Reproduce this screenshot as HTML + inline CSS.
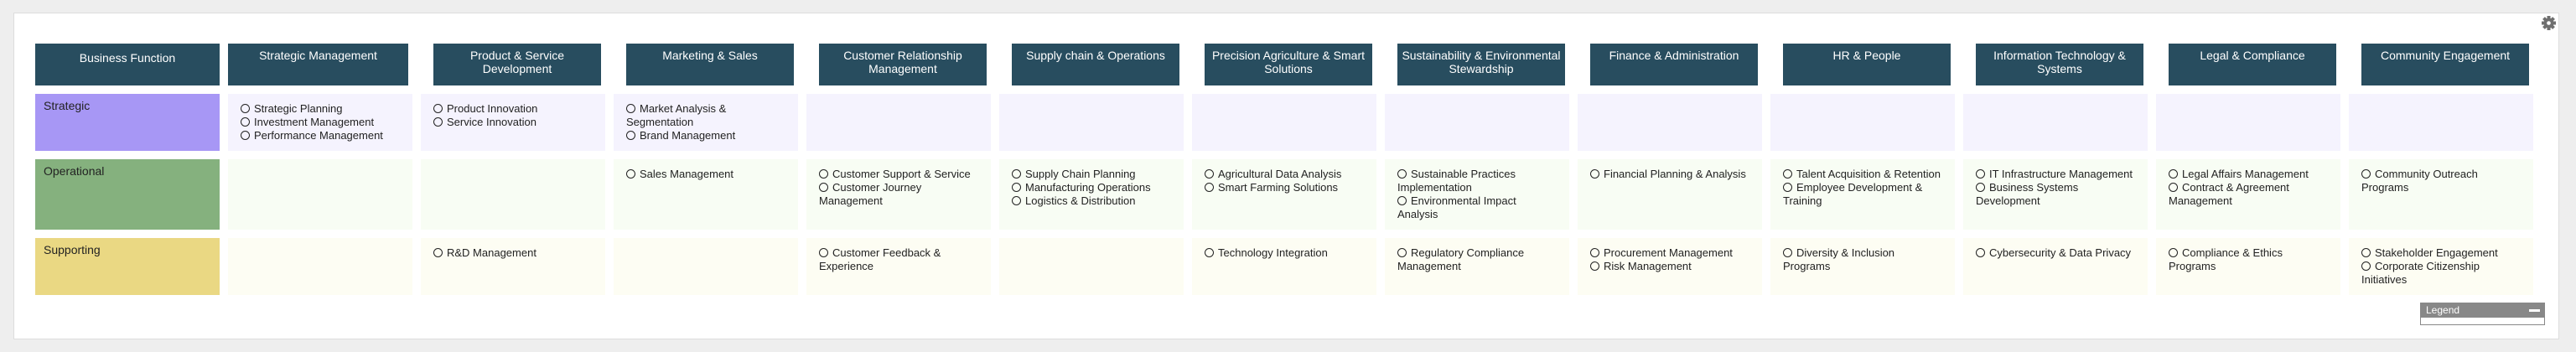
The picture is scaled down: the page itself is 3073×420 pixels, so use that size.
<!DOCTYPE html>
<html><head><meta charset="utf-8"><style>
*{margin:0;padding:0;box-sizing:border-box}
body{width:3073px;height:420px;background:#eeeeee;font-family:"Liberation Sans",sans-serif;position:relative;overflow:hidden}
.panel{position:absolute;left:16px;top:15px;width:3037px;height:390px;background:#fff;border:1px solid #dddddd}
.h{position:absolute;top:52px;height:50px;background:#284d5f;color:#fff;font-size:14px;line-height:16px;text-align:center;padding-top:6px;white-space:nowrap}
.c{position:absolute;width:220px;font-size:13px;line-height:16px;color:#222;padding:10px 0 0 15px;white-space:nowrap}
.r1{top:112px;height:68px;background:#f5f3fe}
.r2{top:190px;height:84px;background:#f8fdf4}
.r3{top:284px;height:68px;background:#fdfdf3}
.o{display:inline-block;width:11px;height:11px;border:1.3px solid #222;border-radius:50%;margin-right:5px;vertical-align:-1px}
.lab{position:absolute;left:42px;width:220px;font-size:14px;color:#222;padding:6px 0 0 10px}
.gear{position:absolute;left:3032px;top:19px}
.leg{position:absolute;left:2887px;top:361px;width:149px;height:27px;border:1px solid #888;background:#fff}
.leg div{height:17px;background:#888;color:#fff;font-size:12px;padding:1px 0 0 6px;position:relative}
.leg span{position:absolute;right:5px;top:7px;width:13px;height:3px;background:#fff}
</style></head><body>
<div class="panel"></div>
<svg class="gear" width="17" height="17" viewBox="0 0 17 17"><g fill="#6f6f6f" transform="translate(8.5 8.5)"><rect x="-2" y="-8.5" width="4" height="17"/><rect x="-2" y="-8.5" width="4" height="17" transform="rotate(45)"/><rect x="-2" y="-8.5" width="4" height="17" transform="rotate(90)"/><rect x="-2" y="-8.5" width="4" height="17" transform="rotate(135)"/><circle r="6"/><circle r="2.3" fill="#fff"/></g></svg>

<div class="h" style="left:42px;width:220px;padding-top:9px">Business Function</div>
<div class="lab" style="top:112px;height:68px;background:#a797f5">Strategic</div>
<div class="lab" style="top:190px;height:84px;background:#85b17e">Operational</div>
<div class="lab" style="top:284px;height:68px;background:#ead883">Supporting</div>

<div class="h" style="left:272px;width:215px">Strategic Management</div>
<div class="c r1" style="left:272px"><span class="o"></span>Strategic Planning<br><span class="o"></span>Investment Management<br><span class="o"></span>Performance Management</div>
<div class="c r2" style="left:272px"></div>
<div class="c r3" style="left:272px"></div>

<div class="h" style="left:517px;width:200px">Product &amp; Service<br>Development</div>
<div class="c r1" style="left:502px"><span class="o"></span>Product Innovation<br><span class="o"></span>Service Innovation</div>
<div class="c r2" style="left:502px"></div>
<div class="c r3" style="left:502px"><span class="o"></span>R&amp;D Management</div>

<div class="h" style="left:747px;width:200px">Marketing &amp; Sales</div>
<div class="c r1" style="left:732px"><span class="o"></span>Market Analysis &amp;<br>Segmentation<br><span class="o"></span>Brand Management</div>
<div class="c r2" style="left:732px"><span class="o"></span>Sales Management</div>
<div class="c r3" style="left:732px"></div>

<div class="h" style="left:977px;width:200px">Customer Relationship<br>Management</div>
<div class="c r1" style="left:962px"></div>
<div class="c r2" style="left:962px"><span class="o"></span>Customer Support &amp; Service<br><span class="o"></span>Customer Journey<br>Management</div>
<div class="c r3" style="left:962px"><span class="o"></span>Customer Feedback &amp;<br>Experience</div>

<div class="h" style="left:1207px;width:200px">Supply chain &amp; Operations</div>
<div class="c r1" style="left:1192px"></div>
<div class="c r2" style="left:1192px"><span class="o"></span>Supply Chain Planning<br><span class="o"></span>Manufacturing Operations<br><span class="o"></span>Logistics &amp; Distribution</div>
<div class="c r3" style="left:1192px"></div>

<div class="h" style="left:1437px;width:200px">Precision Agriculture &amp; Smart<br>Solutions</div>
<div class="c r1" style="left:1422px"></div>
<div class="c r2" style="left:1422px"><span class="o"></span>Agricultural Data Analysis<br><span class="o"></span>Smart Farming Solutions</div>
<div class="c r3" style="left:1422px"><span class="o"></span>Technology Integration</div>

<div class="h" style="left:1667px;width:200px">Sustainability &amp; Environmental<br>Stewardship</div>
<div class="c r1" style="left:1652px"></div>
<div class="c r2" style="left:1652px"><span class="o"></span>Sustainable Practices<br>Implementation<br><span class="o"></span>Environmental Impact<br>Analysis</div>
<div class="c r3" style="left:1652px"><span class="o"></span>Regulatory Compliance<br>Management</div>

<div class="h" style="left:1897px;width:200px">Finance &amp; Administration</div>
<div class="c r1" style="left:1882px"></div>
<div class="c r2" style="left:1882px"><span class="o"></span>Financial Planning &amp; Analysis</div>
<div class="c r3" style="left:1882px"><span class="o"></span>Procurement Management<br><span class="o"></span>Risk Management</div>

<div class="h" style="left:2127px;width:200px">HR &amp; People</div>
<div class="c r1" style="left:2112px"></div>
<div class="c r2" style="left:2112px"><span class="o"></span>Talent Acquisition &amp; Retention<br><span class="o"></span>Employee Development &amp;<br>Training</div>
<div class="c r3" style="left:2112px"><span class="o"></span>Diversity &amp; Inclusion<br>Programs</div>

<div class="h" style="left:2357px;width:200px">Information Technology &amp;<br>Systems</div>
<div class="c r1" style="left:2342px"></div>
<div class="c r2" style="left:2342px"><span class="o"></span>IT Infrastructure Management<br><span class="o"></span>Business Systems<br>Development</div>
<div class="c r3" style="left:2342px"><span class="o"></span>Cybersecurity &amp; Data Privacy</div>

<div class="h" style="left:2587px;width:200px">Legal &amp; Compliance</div>
<div class="c r1" style="left:2572px"></div>
<div class="c r2" style="left:2572px"><span class="o"></span>Legal Affairs Management<br><span class="o"></span>Contract &amp; Agreement<br>Management</div>
<div class="c r3" style="left:2572px"><span class="o"></span>Compliance &amp; Ethics<br>Programs</div>

<div class="h" style="left:2817px;width:200px">Community Engagement</div>
<div class="c r1" style="left:2802px"></div>
<div class="c r2" style="left:2802px"><span class="o"></span>Community Outreach<br>Programs</div>
<div class="c r3" style="left:2802px"><span class="o"></span>Stakeholder Engagement<br><span class="o"></span>Corporate Citizenship<br>Initiatives</div>

<div class="leg"><div>Legend<span></span></div></div>
</body></html>
